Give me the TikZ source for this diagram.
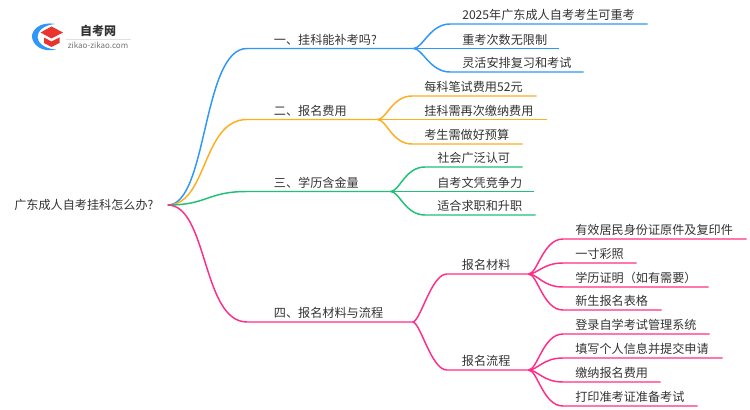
\documentclass[tikz,border=0pt]{standalone}
\usepackage{fontspec}
\setmainfont{Noto Sans CJK SC}
\definecolor{lineblue}{HTML}{2F96FA}
\definecolor{lineorange}{HTML}{FFAE1F}
\definecolor{linegreen}{HTML}{1FC078}
\definecolor{linepink}{HTML}{FF2D87}
\definecolor{txtgray}{HTML}{333333}
\definecolor{logored}{HTML}{E8352F}
\tikzset{
  leaf/.style={anchor=south west,inner xsep=9pt,inner ysep=0pt,text width=#1,
    text height=7.6pt,text depth=3pt,font=\fontsize{9.1pt}{11pt}\selectfont,text=txtgray},
  branch/.style={leaf=#1,inner xsep=20pt},
  midleaf/.style={leaf=#1,inner xsep=11pt},
  root/.style={anchor=west,inner xsep=10.5pt,inner ysep=0pt,
    font=\fontsize{9.1pt}{11pt}\selectfont,text=txtgray},
  wire/.style={line width=1.1pt}
}

\begin{document}
\begin{tikzpicture}[x=0.75pt,y=-0.75pt]
      \useasboundingbox (0,0) rectangle (750,410);
      % logo
      \fill[lineblue] (55,24) .. controls (39,21) and (31.5,31) .. (32,37)
        .. controls (32.5,44) and (41,53) .. (56,49.5)
        .. controls (45,49) and (37.5,43) .. (37.5,37)
        .. controls (37.5,31) and (44,25) .. (55,24);
      \fill[logored] (51.5,26.5) -- (63,32.5) -- (51.5,38.5) -- (40.5,32.5) -- cycle;
      \fill[logored] (44,37.5) -- (51.5,41.5) -- (59.5,37.5) -- (59.5,43) -- (51.5,47) -- (44,43) -- cycle;
      \node[font=\fontsize{9pt}{10pt}\selectfont\bfseries,text=txtgray,inner sep=0pt] (logotitle) at (98,31) {自考网};
      \draw[black!12,line width=0.5pt] (66,39) -- (131,39);
      \node[font=\fontsize{6pt}{7pt}\selectfont,text=black!55,inner sep=0pt] (logourl) at (98,45) {zikao-zikao.com};
      % root
      \node[root] (root) at (0,205) {广东成人自考挂科怎么办?};
      % branch one
      \node[branch={84.5pt}] (one) at (247,48.5) {一、挂科能补考吗?};
      \node[leaf={129.75pt}] (one1) at (450,24) {2025年广东成人自考考生可重考};
      \node[leaf={63pt}] (one2) at (450,48.5) {重考次数无限制};
      \node[leaf={81.75pt}] (one3) at (450,72) {灵活安排复习和考试};
      % branch two
      \node[branch={57.5pt}] (two) at (247,119.5) {二、报名费用};
      \node[leaf={75pt}] (two1) at (412,96) {每科笔试费用52元};
      \node[leaf={82.5pt}] (two2) at (412,119.5) {挂科需再次缴纳费用};
      \node[leaf={64.5pt}] (two3) at (412,144) {考生需做好预算};
      % branch three
      \node[branch={67.25pt}] (three) at (247,191.5) {三、学历含金量};
      \node[leaf={54.75pt}] (three1) at (425,167) {社会广泛认可};
      \node[leaf={63pt}] (three2) at (425,191.5) {自考文凭竞争力};
      \node[leaf={64.5pt}] (three3) at (425,215) {适合求职和升职};
      % branch four
      \node[branch={83.75pt}] (four) at (247,322) {四、报名材料与流程};
      \node[midleaf={38.75pt}] (mat) at (447,274) {报名材料};
      \node[midleaf={38.75pt}] (flow) at (447,370) {报名流程};
      \node[leaf={119.25pt}] (mat1) at (563,239) {有效居民身份证原件及复印件};
      \node[leaf={36.75pt}] (mat2) at (563,263) {一寸彩照};
      \node[leaf={90.75pt}] (mat3) at (563,287) {学历证明（如有需要）};
      \node[leaf={55.5pt}] (mat4) at (563,310) {新生报名表格};
      \node[leaf={91.5pt}] (flow1) at (563,334) {登录自学考试管理系统};
      \node[leaf={101.25pt}] (flow2) at (563,358) {填写个人信息并提交申请};
      \node[leaf={54.75pt}] (flow3) at (563,382) {缴纳报名费用};
      \node[leaf={82.5pt}] (flow4) at (563,406) {打印准考证准备考试};
      % connectors
      \draw[wire,lineblue] (root.east) .. controls +(40,0) and +(-45,0) .. (one.south west) -- (one.south east);
      \draw[wire,lineblue] (one.south east) .. controls +(9,0) and +(-20,0) .. (one1.south west) -- (one1.south east);
      \draw[wire,lineblue] (one.south east) -- (one2.south east);
      \draw[wire,lineblue] (one.south east) .. controls +(9,0) and +(-20,0) .. (one3.south west) -- (one3.south east);
      \draw[wire,lineorange] (root.east) .. controls +(40,0) and +(-45,0) .. (two.south west) -- (two.south east);
      \draw[wire,lineorange] (two.south east) .. controls +(9,0) and +(-20,0) .. (two1.south west) -- (two1.south east);
      \draw[wire,lineorange] (two.south east) -- (two2.south east);
      \draw[wire,lineorange] (two.south east) .. controls +(9,0) and +(-20,0) .. (two3.south west) -- (two3.south east);
      \draw[wire,linegreen] (root.east) .. controls +(40,0) and +(-40,0) .. (three.south west) -- (three.south east);
      \draw[wire,linegreen] (three.south east) .. controls +(9,0) and +(-20,0) .. (three1.south west) -- (three1.south east);
      \draw[wire,linegreen] (three.south east) -- (three2.south east);
      \draw[wire,linegreen] (three.south east) .. controls +(9,0) and +(-20,0) .. (three3.south west) -- (three3.south east);
      \draw[wire,linepink] (root.east) .. controls +(40,0) and +(-45,0) .. (four.south west) -- (four.south east);
      \draw[wire,linepink] (four.south east) .. controls +(8,0) and +(-16,0) .. (mat.south west) -- (mat.south east);
      \draw[wire,linepink] (four.south east) .. controls +(8,0) and +(-16,0) .. (flow.south west) -- (flow.south east);
      \foreach \leafname in {mat1,mat2,mat3,mat4}
        \draw[wire,linepink] (mat.south east) .. controls +(9,0) and +(-20,0) .. (\leafname.south west) -- (\leafname.south east);
      \foreach \leafname in {flow1,flow2,flow3,flow4}
        \draw[wire,linepink] (flow.south east) .. controls +(9,0) and +(-20,0) .. (\leafname.south west) -- (\leafname.south east);
\end{tikzpicture}
\end{document}
